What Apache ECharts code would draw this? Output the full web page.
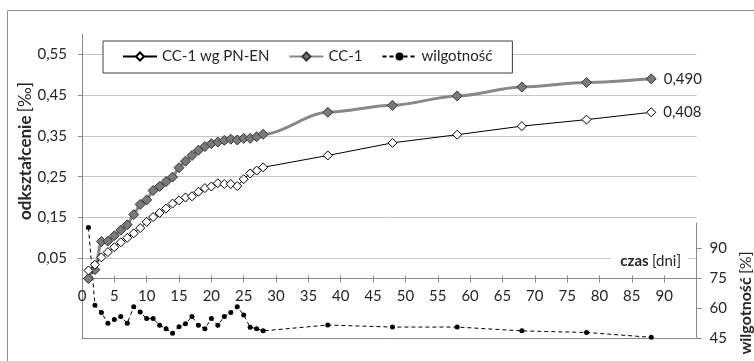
<!DOCTYPE html>
<html>
<head>
<meta charset="utf-8">
<script src="https://cdn.jsdelivr.net/npm/echarts@6/dist/echarts.min.js"></script>
<style>
  html, body { margin: 0; padding: 0; background: #fff; }
  #chart { width: 754px; height: 361px; }
</style>
</head>
<body>
<div id="chart"></div>
<script>
// Days of measurement
const days = [1, 2, 3, 4, 5, 6, 7, 8, 9, 10, 11, 12, 13, 14, 15, 16, 17, 18, 19, 20,
              21, 22, 23, 24, 25, 26, 27, 28, 38, 48, 58, 68, 78, 88];

// Strain [‰] – CC-1 according to PN-EN
const strainPN = [0.020, 0.034, 0.052, 0.065, 0.077, 0.089, 0.100, 0.111, 0.124, 0.139,
                  0.151, 0.161, 0.172, 0.184, 0.192, 0.199, 0.202, 0.213, 0.222, 0.226,
                  0.234, 0.232, 0.232, 0.227, 0.244, 0.258, 0.265, 0.273,
                  0.302, 0.333, 0.353, 0.374, 0.390, 0.408];

// Strain [‰] – CC-1
const strainCC1 = [0.000, 0.022, 0.091, 0.092, 0.105, 0.119, 0.132, 0.157, 0.182, 0.193,
                   0.216, 0.226, 0.238, 0.249, 0.272, 0.288, 0.302, 0.315, 0.324, 0.331,
                   0.335, 0.339, 0.342, 0.340, 0.344, 0.344, 0.348, 0.354,
                   0.408, 0.425, 0.448, 0.470, 0.481, 0.490];

// Relative humidity [%]
const humidity = [100.2, 61.5, 57.9, 52.6, 54.5, 55.9, 52.6, 60.8, 58.2, 54.9,
                  54.9, 51.6, 49.9, 47.6, 50.9, 52.4, 55.9, 51.6, 49.9, 54.9,
                  51.6, 55.9, 57.9, 60.8, 56.7, 50.6, 49.9, 48.8,
                  51.7, 50.7, 50.7, 48.8, 48.0, 45.6];

// Axis tick labels
const dayTicks = [0, 5, 10, 15, 20, 25, 30, 35, 40, 45, 50, 55, 60, 65, 70, 75, 80, 85, 90];
const strainTicks = [0.05, 0.15, 0.25, 0.35, 0.45, 0.55];
const humidityTicks = [45, 60, 75, 90];

const seriesNames = ['CC-1 wg PN-EN', 'CC-1', 'wilgotność'];

const FONT = 'Lato, "Open Sans", sans-serif';
const TXT = '#262626';
const GRID_LINE = '#c4c4c4';
const AXIS_LINE = '#8a8a8a';

const pairs = (xs, ys) => xs.map((x, i) => [x, ys[i]]);
const comma = (v, d) => v.toFixed(d).replace('.', ',');

const lastLabel = (arr) => ({
  show: true,
  position: 'right',
  distance: 7,
  color: TXT,
  fontFamily: FONT,
  fontSize: 15,
  formatter: p => (p.dataIndex === arr.length - 1 ? comma(p.value[1], 3) : '')
});

const chart = echarts.init(document.getElementById('chart'), null, { renderer: 'canvas' });

chart.setOption({
  backgroundColor: '#ffffff',
  animation: false,
  textStyle: { fontFamily: FONT, color: TXT },
  grid: [
    { left: 82, right: 57.5, top: 34, bottom: 82.4 },
    { left: 82, right: 57.5, top: 223, bottom: 22.5 }
  ],
  legend: {
    data: seriesNames,
    left: 103,
    top: 41,
    orient: 'horizontal',
    backgroundColor: '#ffffff',
    borderColor: '#3f3f3f',
    borderWidth: 1,
    borderRadius: 0,
    padding: [8, 20, 9, 19],
    itemGap: 19,
    itemWidth: 34,
    itemHeight: 10,
    textStyle: { fontFamily: FONT, fontSize: 15, color: TXT }
  },
  xAxis: [
    {
      gridIndex: 0, type: 'value', min: 0, max: 95, interval: 5,
      axisLine: { show: true, onZero: false, lineStyle: { color: AXIS_LINE, width: 1 } },
      axisTick: { show: true, length: 4, lineStyle: { color: AXIS_LINE } },
      axisLabel: {
        customValues: dayTicks, margin: 10, fontFamily: FONT, fontSize: 15, color: TXT,
        formatter: v => String(v)
      },
      splitLine: { show: false }
    },
    {
      gridIndex: 1, type: 'value', min: 0, max: 95, interval: 5,
      axisLine: { show: true, onZero: false, lineStyle: { color: AXIS_LINE, width: 1 } },
      axisTick: { show: false },
      axisLabel: { show: false },
      splitLine: { show: false }
    },
    {
      // inner half of the crossing day ticks
      gridIndex: 0, type: 'value', min: 0, max: 95, interval: 5, position: 'bottom',
      axisLine: { show: false, onZero: false },
      axisTick: { show: true, inside: true, length: 3, lineStyle: { color: AXIS_LINE } },
      axisLabel: { show: false },
      splitLine: { show: false }
    }
  ],
  yAxis: [
    {
      gridIndex: 0, type: 'value', min: 0, max: 0.6, position: 'left',
      axisLine: { show: true, onZero: false, lineStyle: { color: AXIS_LINE, width: 1 } },
      axisTick: { show: true, length: 4, customValues: strainTicks, lineStyle: { color: AXIS_LINE } },
      axisLabel: {
        customValues: strainTicks, margin: 15, fontFamily: FONT, fontSize: 15, color: TXT,
        formatter: v => comma(v, 2)
      },
      splitLine: { show: true, lineStyle: { color: GRID_LINE, width: 1 } }
    },
    {
      gridIndex: 1, type: 'value', min: 45, max: 102.5, position: 'right',
      axisLine: { show: true, onZero: false, lineStyle: { color: AXIS_LINE, width: 1 } },
      axisTick: { show: true, length: 5, customValues: humidityTicks, lineStyle: { color: AXIS_LINE } },
      axisLabel: {
        customValues: humidityTicks, margin: 13, fontFamily: FONT, fontSize: 15, color: TXT,
        formatter: v => String(v)
      },
      splitLine: { show: false }
    },
    {
      gridIndex: 1, type: 'value', min: 45, max: 102.5, position: 'left',
      axisLine: { show: true, onZero: false, lineStyle: { color: AXIS_LINE, width: 1 } },
      axisTick: { show: false },
      axisLabel: { show: false },
      splitLine: { show: false }
    }
  ],
  graphic: [
    {
      // chart frame
      type: 'rect', silent: true, z: -10,
      shape: { x: 7.5, y: 10.5, width: 820, height: 420 },
      style: { fill: 'none', stroke: '#8f8f8f', lineWidth: 1 }
    },
    {
      type: 'text', z: 50, x: 26, y: 151, rotation: Math.PI / 2,
      style: {
        text: '{b|odkształcenie} {n|[‰]}',
        align: 'center', verticalAlign: 'middle',
        rich: {
          b: { fontFamily: FONT, fontSize: 17, fontWeight: 'bold', fill: TXT },
          n: { fontFamily: FONT, fontSize: 17, fill: TXT }
        }
      }
    },
    {
      type: 'text', z: 50, x: 746, y: 303, rotation: Math.PI / 2,
      style: {
        text: '{b|wilgotność} {n|[%]}',
        align: 'center', verticalAlign: 'middle',
        rich: {
          b: { fontFamily: FONT, fontSize: 16, fontWeight: 'bold', fill: TXT },
          n: { fontFamily: FONT, fontSize: 16, fill: TXT }
        }
      }
    },
    {
      type: 'text', z: 50, x: 688, y: 261,
      style: {
        text: '{b|czas} {n|[dni]}',
        align: 'right', verticalAlign: 'middle',
        backgroundColor: '#ffffff',
        padding: [2, 7, 2, 10],
        rich: {
          b: { fontFamily: FONT, fontSize: 15, fontWeight: 'bold', fill: TXT },
          n: { fontFamily: FONT, fontSize: 15, fill: TXT }
        }
      }
    }
  ],
  series: [
    {
      name: seriesNames[0], type: 'line', xAxisIndex: 0, yAxisIndex: 0,
      data: pairs(days, strainPN),
      symbol: 'diamond', symbolSize: 9,
      lineStyle: { color: '#000000', width: 1 },
      itemStyle: { color: '#ffffff', borderColor: '#000000', borderWidth: 1 },
      label: lastLabel(strainPN),
      z: 3
    },
    {
      name: seriesNames[1], type: 'line', xAxisIndex: 0, yAxisIndex: 0,
      data: pairs(days, strainCC1),
      smooth: 0.3, smoothMonotone: 'x',
      symbol: 'diamond', symbolSize: 10,
      lineStyle: { color: '#888888', width: 3 },
      itemStyle: { color: '#7a7a7a', borderColor: '#363636', borderWidth: 1 },
      label: lastLabel(strainCC1),
      z: 2
    },
    {
      name: seriesNames[2], type: 'line', xAxisIndex: 1, yAxisIndex: 1,
      data: pairs(days, humidity),
      symbol: 'circle', symbolSize: 5,
      lineStyle: { color: '#000000', width: 1, type: [4, 3] },
      itemStyle: { color: '#000000', borderColor: '#000000', borderWidth: 0 },
      z: 2
    }
  ]
});
</script>
</body>
</html>
